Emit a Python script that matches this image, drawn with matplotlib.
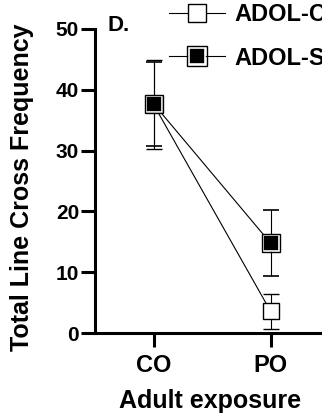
import matplotlib
matplotlib.use("Agg")
import matplotlib.pyplot as plt

plt.rcParams['font.family'] = ['Liberation Sans', 'DejaVu Sans']
plt.rcParams['font.weight'] = 'bold'

groups = ["CO", "PO"]
series = ["ADOL-C", "ADOL-S"]
adol_c_mean = [37.6, 3.6]
adol_c_err = [7.3, 2.9]
adol_s_mean = [37.7, 14.8]
adol_s_err = [6.9, 5.4]
yticks = [0, 10, 20, 30, 40, 50]

fig = plt.figure(figsize=(3.22, 4.19), dpi=100)
ax = fig.add_axes([0.295, 0.205, 0.727, 0.726])
x = list(range(len(groups)))

eb_c = ax.errorbar(x, adol_c_mean, yerr=adol_c_err, color="black", lw=0.8, elinewidth=0.8,
                   capsize=6, capthick=0.8, marker="s", ms=12, mfc="white", mec="black",
                   mew=1.0, clip_on=False, zorder=3)
eb_s = ax.errorbar(x, adol_s_mean, yerr=adol_s_err, color="black", lw=0.8, elinewidth=0.8,
                   capsize=6, capthick=0.8, marker="s", ms=11, mfc="black", mec="white",
                   mew=1.2, clip_on=False, zorder=4)
# outer outline of the filled squares
rim, = ax.plot(x, adol_s_mean, ls="none", marker="s", ms=13, mfc="none", mec="black",
               mew=1.0, clip_on=False, zorder=5)

ax.set_xlim(-0.5, 1.5)
ax.set_ylim(0, 50)
ax.set_yticks(yticks)
ax.set_xticks(x)
ax.set_xticklabels(groups)
for s in ("top", "right"):
    ax.spines[s].set_visible(False)
for s in ("left", "bottom"):
    ax.spines[s].set_linewidth(2.2)
ax.tick_params(axis="both", width=2.2, length=10)
ax.tick_params(axis="y", labelsize=15, pad=1.5)
ax.tick_params(axis="x", labelsize=17, pad=5)
for t in ax.get_xticklabels() + ax.get_yticklabels():
    t.set_fontweight("bold")

ax.set_ylabel("Total Line Cross Frequency", fontsize=18, fontweight="bold", va="center")
ax.yaxis.set_label_coords(-0.312, 0.48)
ax.set_xlabel("Adult exposure", fontsize=18, fontweight="bold", va="center")
ax.xaxis.set_label_coords(0.49, -0.224)
fig.text(0.333, 0.94, "D.", fontsize=16, fontweight="bold", va="center")

# legend runs off the right edge, as in the original figure panel
ax.legend([eb_c.lines[0], (eb_s.lines[0], rim)], series, loc="upper left",
          bbox_to_anchor=(0.526, 0.993), bbox_transform=fig.transFigure,
          frameon=False, handlelength=2.35, labelspacing=0.88, handletextpad=0.42,
          markerscale=1.1, prop={"size": 17, "weight": "bold"}, borderaxespad=0,
          borderpad=0)

fig.savefig("out.png", dpi=100)
